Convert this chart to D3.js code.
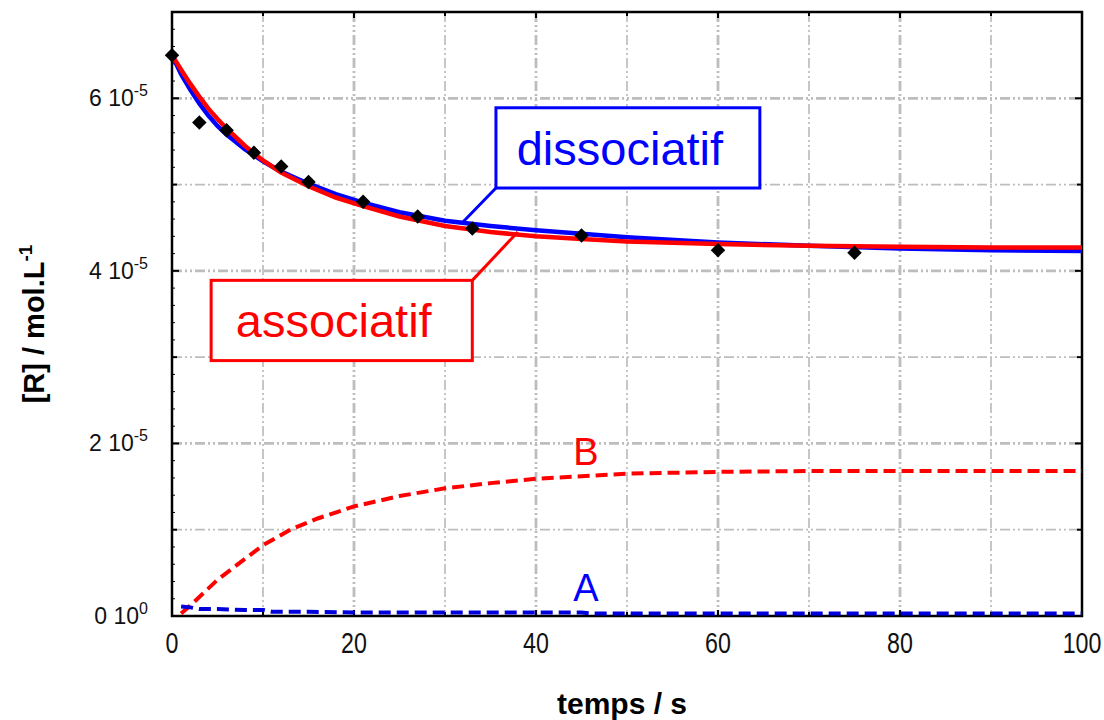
<!DOCTYPE html>
<html>
<head>
<meta charset="utf-8">
<script src="https://cdn.jsdelivr.net/npm/d3@7"></script>
<style>
  html, body { margin: 0; padding: 0; background: #fff; }
  svg { display: block; font-family: "Liberation Sans", Arial, sans-serif; }
</style>
</head>
<body>
<svg id="chart" width="1104" height="720"></svg>
<script>
// ---- Data (concentrations in units of 1e-5 mol/L) ----
const expTimes = [0, 3, 6, 9, 12, 15, 21, 27, 33, 45, 60, 75];
const expValues = [6.50, 5.72, 5.63, 5.37, 5.21, 5.03, 4.80, 4.63, 4.49, 4.41, 4.24, 4.21];

const fitTimes = [0, 1, 2, 3, 4, 5, 6, 8, 10, 12, 15, 18, 21, 25, 30, 35, 40, 45, 50, 60, 70, 80, 90, 100];
const assocValues = [6.50, 6.33, 6.17, 6.02, 5.88, 5.76, 5.65, 5.45, 5.28, 5.14, 4.98, 4.85, 4.75, 4.63, 4.52, 4.45, 4.40, 4.37, 4.34, 4.31, 4.29, 4.28, 4.27, 4.27];
const dissocValues = [6.50, 6.28, 6.10, 5.94, 5.80, 5.68, 5.58, 5.41, 5.27, 5.15, 5.01, 4.89, 4.79, 4.68, 4.58, 4.52, 4.47, 4.43, 4.39, 4.33, 4.29, 4.26, 4.24, 4.23];

const aTimes = [1, 2, 3, 5, 8, 10, 11, 15, 20, 30, 45, 46, 60, 80, 100];
const aValues = [0.11, 0.10, 0.08, 0.08, 0.07, 0.07, 0.05, 0.05, 0.04, 0.04, 0.04, 0.03, 0.03, 0.03, 0.03];

const bTimes = [1, 2, 3, 5, 7, 10, 13, 16, 20, 25, 30, 35, 40, 45, 50, 60, 70, 80, 100];
const bValues = [0.03, 0.12, 0.22, 0.42, 0.58, 0.82, 1.00, 1.13, 1.27, 1.39, 1.48, 1.54, 1.59, 1.62, 1.65, 1.67, 1.68, 1.68, 1.68];

const xTicks = [0, 20, 40, 60, 80, 100];
const yTickMantissa = [0, 2, 4, 6];
const yTickExponent = ["0", "-5", "-5", "-5"];

// ---- Layout ----
const W = 1104, H = 720;
const pLeft = 172, pRight = 1082, pTop = 12, pBottom = 616;
const SCALE = 1e-5;

const svg = d3.select("#chart");
const x = d3.scaleLinear().domain([0, 100]).range([pLeft, pRight]);
const y = d3.scaleLinear().domain([0, 7e-5]).range([pBottom, pTop]);

// ---- Grid ----
const grid = svg.append("g");
d3.range(10, 100, 10).forEach(t => {
  grid.append("line")
    .attr("x1", x(t)).attr("x2", x(t)).attr("y1", pTop).attr("y2", pBottom)
    .attr("stroke", "#bdbdbd")
    .attr("stroke-width", t % 20 === 0 ? 2.8 : 1.7)
    .attr("stroke-dasharray", "10,3,2,3,2,3");
});
d3.range(1, 7, 1).forEach(v => {
  grid.append("line")
    .attr("x1", pLeft).attr("x2", pRight).attr("y1", y(v * SCALE)).attr("y2", y(v * SCALE))
    .attr("stroke", "#bdbdbd")
    .attr("stroke-width", v % 2 === 0 ? 2.8 : 1.7)
    .attr("stroke-dasharray", "10,3,2,3,2,3");
});

// ---- Frame and ticks ----
const axes = svg.append("g").attr("stroke", "#000");
axes.append("rect")
  .attr("x", pLeft).attr("y", pTop).attr("width", pRight - pLeft).attr("height", pBottom - pTop)
  .attr("fill", "none").attr("stroke-width", 2.5);
d3.range(10, 100, 10).forEach(t => {
  const len = t % 20 === 0 ? 6 : 4;
  axes.append("line").attr("x1", x(t)).attr("x2", x(t)).attr("y1", pBottom).attr("y2", pBottom - len).attr("stroke-width", 2);
  axes.append("line").attr("x1", x(t)).attr("x2", x(t)).attr("y1", pTop).attr("y2", pTop + len).attr("stroke-width", 2);
});
d3.range(0.2, 7, 0.2).forEach(v => {
  const isMajor = Math.abs(v - Math.round(v)) < 1e-6;
  const isLabel = isMajor && Math.round(v) % 2 === 0;
  const len = isLabel ? 7 : (isMajor ? 5 : 3);
  axes.append("line").attr("x1", pLeft).attr("x2", pLeft + len)
    .attr("y1", y(v * SCALE)).attr("y2", y(v * SCALE)).attr("stroke-width", isMajor ? 2 : 1);
  if (isMajor) {
    axes.append("line").attr("x1", pRight).attr("x2", pRight - len)
      .attr("y1", y(v * SCALE)).attr("y2", y(v * SCALE)).attr("stroke-width", 2);
  }
});

// ---- Tick labels ----
const xLab = svg.append("g").attr("font-size", 29).attr("fill", "#111");
xTicks.forEach(t => {
  xLab.append("text")
    .attr("transform", `translate(${x(t)},${653}) scale(0.8,1)`)
    .attr("text-anchor", "middle")
    .text(t);
});
const yLab = svg.append("g").attr("fill", "#111");
yTickMantissa.forEach((m, i) => {
  const t = yLab.append("text")
    .attr("x", 148).attr("y", y(m * SCALE) + 8)
    .attr("text-anchor", "end")
    .attr("font-size", 23);
  t.append("tspan").text(m + " 10");
  t.append("tspan").attr("font-size", 16).attr("dy", -10).text(yTickExponent[i]);
});

// ---- Axis titles ----
svg.append("text")
  .attr("x", 622).attr("y", 714)
  .attr("text-anchor", "middle")
  .attr("font-size", 30).attr("font-weight", "bold")
  .text("temps / s");
const yt = svg.append("text")
  .attr("transform", `translate(44,${324}) rotate(-90)`)
  .attr("text-anchor", "middle")
  .attr("font-size", 29).attr("font-weight", "bold");
yt.append("tspan").text("[R] / mol.L");
yt.append("tspan").attr("font-size", 19).attr("dy", -12).text("-1");

// ---- Curves ----
const line = d3.line().x(d => x(d[0])).y(d => y(d[1] * SCALE));
const zip = (a, b) => a.map((v, i) => [v, b[i]]);

svg.append("path").datum(zip(bTimes, bValues)).attr("d", line)
  .attr("fill", "none").attr("stroke", "#ff0000").attr("stroke-width", 4)
  .attr("stroke-dasharray", "12,6");
svg.append("path").datum(zip(aTimes, aValues)).attr("d", line)
  .attr("fill", "none").attr("stroke", "#0000dd").attr("stroke-width", 4)
  .attr("stroke-dasharray", "12,6");

svg.append("path").datum(zip(fitTimes, dissocValues)).attr("d", line)
  .attr("fill", "none").attr("stroke", "#0000ff").attr("stroke-width", 4.5);
svg.append("path").datum(zip(fitTimes, assocValues)).attr("d", line)
  .attr("fill", "none").attr("stroke", "#ff0000").attr("stroke-width", 4.5);

// ---- Experimental points ----
svg.append("g").selectAll("path")
  .data(zip(expTimes, expValues))
  .join("path")
  .attr("d", d3.symbol().type(d3.symbolSquare).size(105))
  .attr("transform", d => `translate(${x(d[0])},${y(d[1] * SCALE)}) rotate(45)`)
  .attr("fill", "#000");

// ---- Annotations ----
const annotations = [
  { label: "dissociatif", color: "#0000ff", x0: 35.6, x1: 64.6, y0: 5.89, y1: 4.96, ax: 32, ay: 4.57, cx: 35.6, cy: 4.96 },
  { label: "associatif", color: "#ff0000", x0: 4.3, x1: 33.0, y0: 3.89, y1: 2.96, ax: 38, ay: 4.45, cx: 33.0, cy: 3.89 }
];
annotations.forEach(a => {
  const g = svg.append("g");
  g.append("line")
    .attr("x1", x(a.cx)).attr("y1", y(a.cy * SCALE))
    .attr("x2", x(a.ax)).attr("y2", y(a.ay * SCALE))
    .attr("stroke", a.color).attr("stroke-width", 3);
  g.append("rect")
    .attr("x", x(a.x0)).attr("y", y(a.y0 * SCALE))
    .attr("width", x(a.x1) - x(a.x0)).attr("height", y(a.y1 * SCALE) - y(a.y0 * SCALE))
    .attr("fill", "#fff").attr("stroke", a.color).attr("stroke-width", 3);
  g.append("text")
    .attr("x", (x(a.x0) + x(a.x1)) / 2 - 8)
    .attr("y", (y(a.y0 * SCALE) + y(a.y1 * SCALE)) / 2 + 17)
    .attr("text-anchor", "middle")
    .attr("font-size", 47).attr("fill", a.color)
    .text(a.label);
});

const curveLabels = [
  { label: "B", color: "#ff0000", t: 45.5, v: 1.75 },
  { label: "A", color: "#0000ff", t: 45.5, v: 0.17 }
];
curveLabels.forEach(c => {
  svg.append("text")
    .attr("x", x(c.t)).attr("y", y(c.v * SCALE))
    .attr("text-anchor", "middle")
    .attr("font-size", 38).attr("fill", c.color)
    .text(c.label);
});
</script>
</body>
</html>
